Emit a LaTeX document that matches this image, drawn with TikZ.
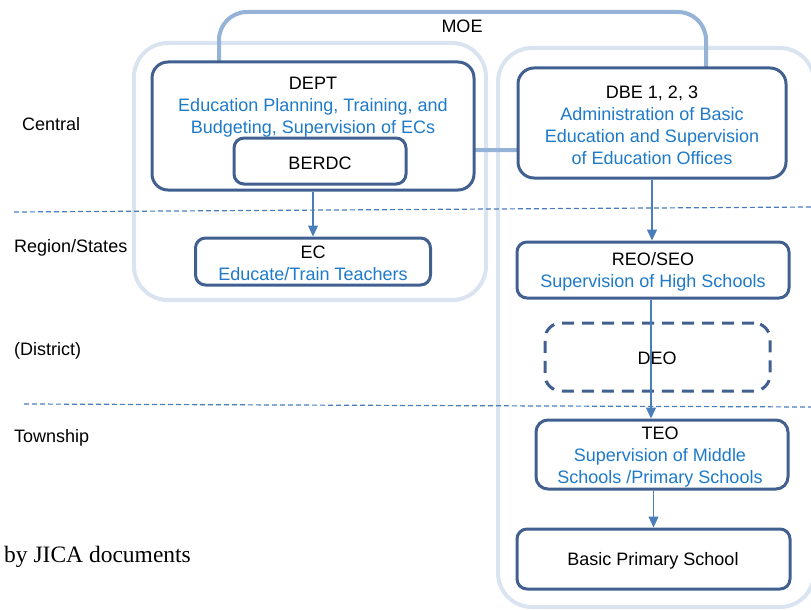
\documentclass[tikz,border=0pt]{standalone}
\usepackage{fontspec}
\setmainfont{Liberation Sans}
\newfontfamily\serifjica{Liberation Serif}
\usetikzlibrary{arrows.meta}
\definecolor{boxblue}{HTML}{41608F}
\definecolor{txtblue}{HTML}{1F7AC8}
\definecolor{arrblue}{HTML}{4A7EBB}
\definecolor{contblue}{HTML}{DAE4F1}
\definecolor{moeblue}{HTML}{95B3D7}
\tikzset{
  x=1pt, y=-1pt,
  orgbox/.style={draw=boxblue, line width=3pt, rounded corners=16pt, fill=white, inner sep=0pt},
  dashbox/.style={draw=boxblue, line width=3pt, rounded corners=16pt, dash pattern=on 12pt off 8pt, inner sep=0pt},
  txt/.style={align=center, inner sep=0pt, font=\fontsize{18}{22}\selectfont},
  lvl/.style={anchor=west, inner sep=0pt, font=\fontsize{18}{22}\selectfont},
  arr/.style={draw=arrblue, line width=1.2pt, -{Triangle[length=11pt,width=10pt]}},
  lvline/.style={draw=arrblue, line width=1.2pt, dash pattern=on 5pt off 3pt},
  cont/.style={draw=contblue, line width=4pt, rounded corners=34pt},
  moe/.style={draw=moeblue, line width=4pt, rounded corners=28pt}
}
\begin{document}
\begin{tikzpicture}
\useasboundingbox (0,0) rectangle (811,610);
\begin{scope}
\clip (0,0) rectangle (811,610);
% containers
\draw[cont] (134,43) rectangle (486,300);
\draw[cont] (498,48) rectangle (814,607);
% MOE frame
\draw[moe] (219,12) rectangle (706,150);
\node[txt] (moelbl) at (462,26) {MOE};
% level lines
\draw[lvline] (14,212) -- (811,207);
\draw[lvline] (24,404) -- (811,407);
\end{scope}
% level labels
\node[lvl] (central) at (22,124) {Central};
\node[lvl] (region) at (14,248) {Region/States};
\node[lvl] (district) at (14,351) {(District)};
\node[lvl] (township) at (14,438) {Township};
% left branch
\node[orgbox, minimum width=322pt, minimum height=128pt] (dept) at (313,126) {};
\node[txt] (depttxt) at (313,107) {DEPT\\\color{txtblue}Education Planning, Training, and\\\color{txtblue}Budgeting, Supervision of ECs};
\node[orgbox, minimum width=172pt, minimum height=46pt, rounded corners=10pt] (berdc) at (320,161) {};
\node[txt] (berdctxt) at (320,163) {BERDC};
\node[orgbox, minimum width=235pt, minimum height=47pt, rounded corners=10pt] (ec) at (313,261.5) {};
\node[txt] (ectxt) at (313,263) {EC\\\color{txtblue}Educate/Train Teachers};
% right branch
\node[orgbox, minimum width=268pt, minimum height=110pt] (dbe) at (652,123) {};
\node[txt] (dbetxt) at (652,125) {DBE 1, 2, 3\\\color{txtblue}Administration of Basic\\\color{txtblue}Education and Supervision\\\color{txtblue}of Education Offices};
\node[orgbox, minimum width=272pt, minimum height=56pt, rounded corners=10pt] (reo) at (653,270) {};
\node[txt] (reotxt) at (653,272) {REO/SEO\\\color{txtblue}Supervision of High Schools};
\node[dashbox, minimum width=225pt, minimum height=68pt] (deo) at (657.5,357) {};
\node[txt] (deotxt) at (657,358) {DEO};
\node[orgbox, minimum width=252pt, minimum height=69pt, rounded corners=12pt] (teo) at (662,454.5) {};
\node[txt] (teotxt) at (660,457) {TEO\\\color{txtblue}Supervision of Middle\\\color{txtblue}Schools /Primary Schools};
\node[orgbox, minimum width=273pt, minimum height=60pt, rounded corners=10pt] (bps) at (653.5,559) {};
\node[txt] (bpstxt) at (653,561) {Basic Primary School};
% arrows
\draw[arr] (dept.south) -- (ec.north);
\draw[arr] (dbe.south) -- (dbe.south |- reo.north);
\draw[arr] (reo.south -| 651,0) -- (651,0 |- teo.north);
\draw[arr] (bps.north |- teo.south) -- (bps.north);
% source note
\node[anchor=west, inner sep=0pt, font=\serifjica\fontsize{23.5}{26}\selectfont] (src) at (4,557) {by JICA documents};
\end{tikzpicture}
\end{document}
